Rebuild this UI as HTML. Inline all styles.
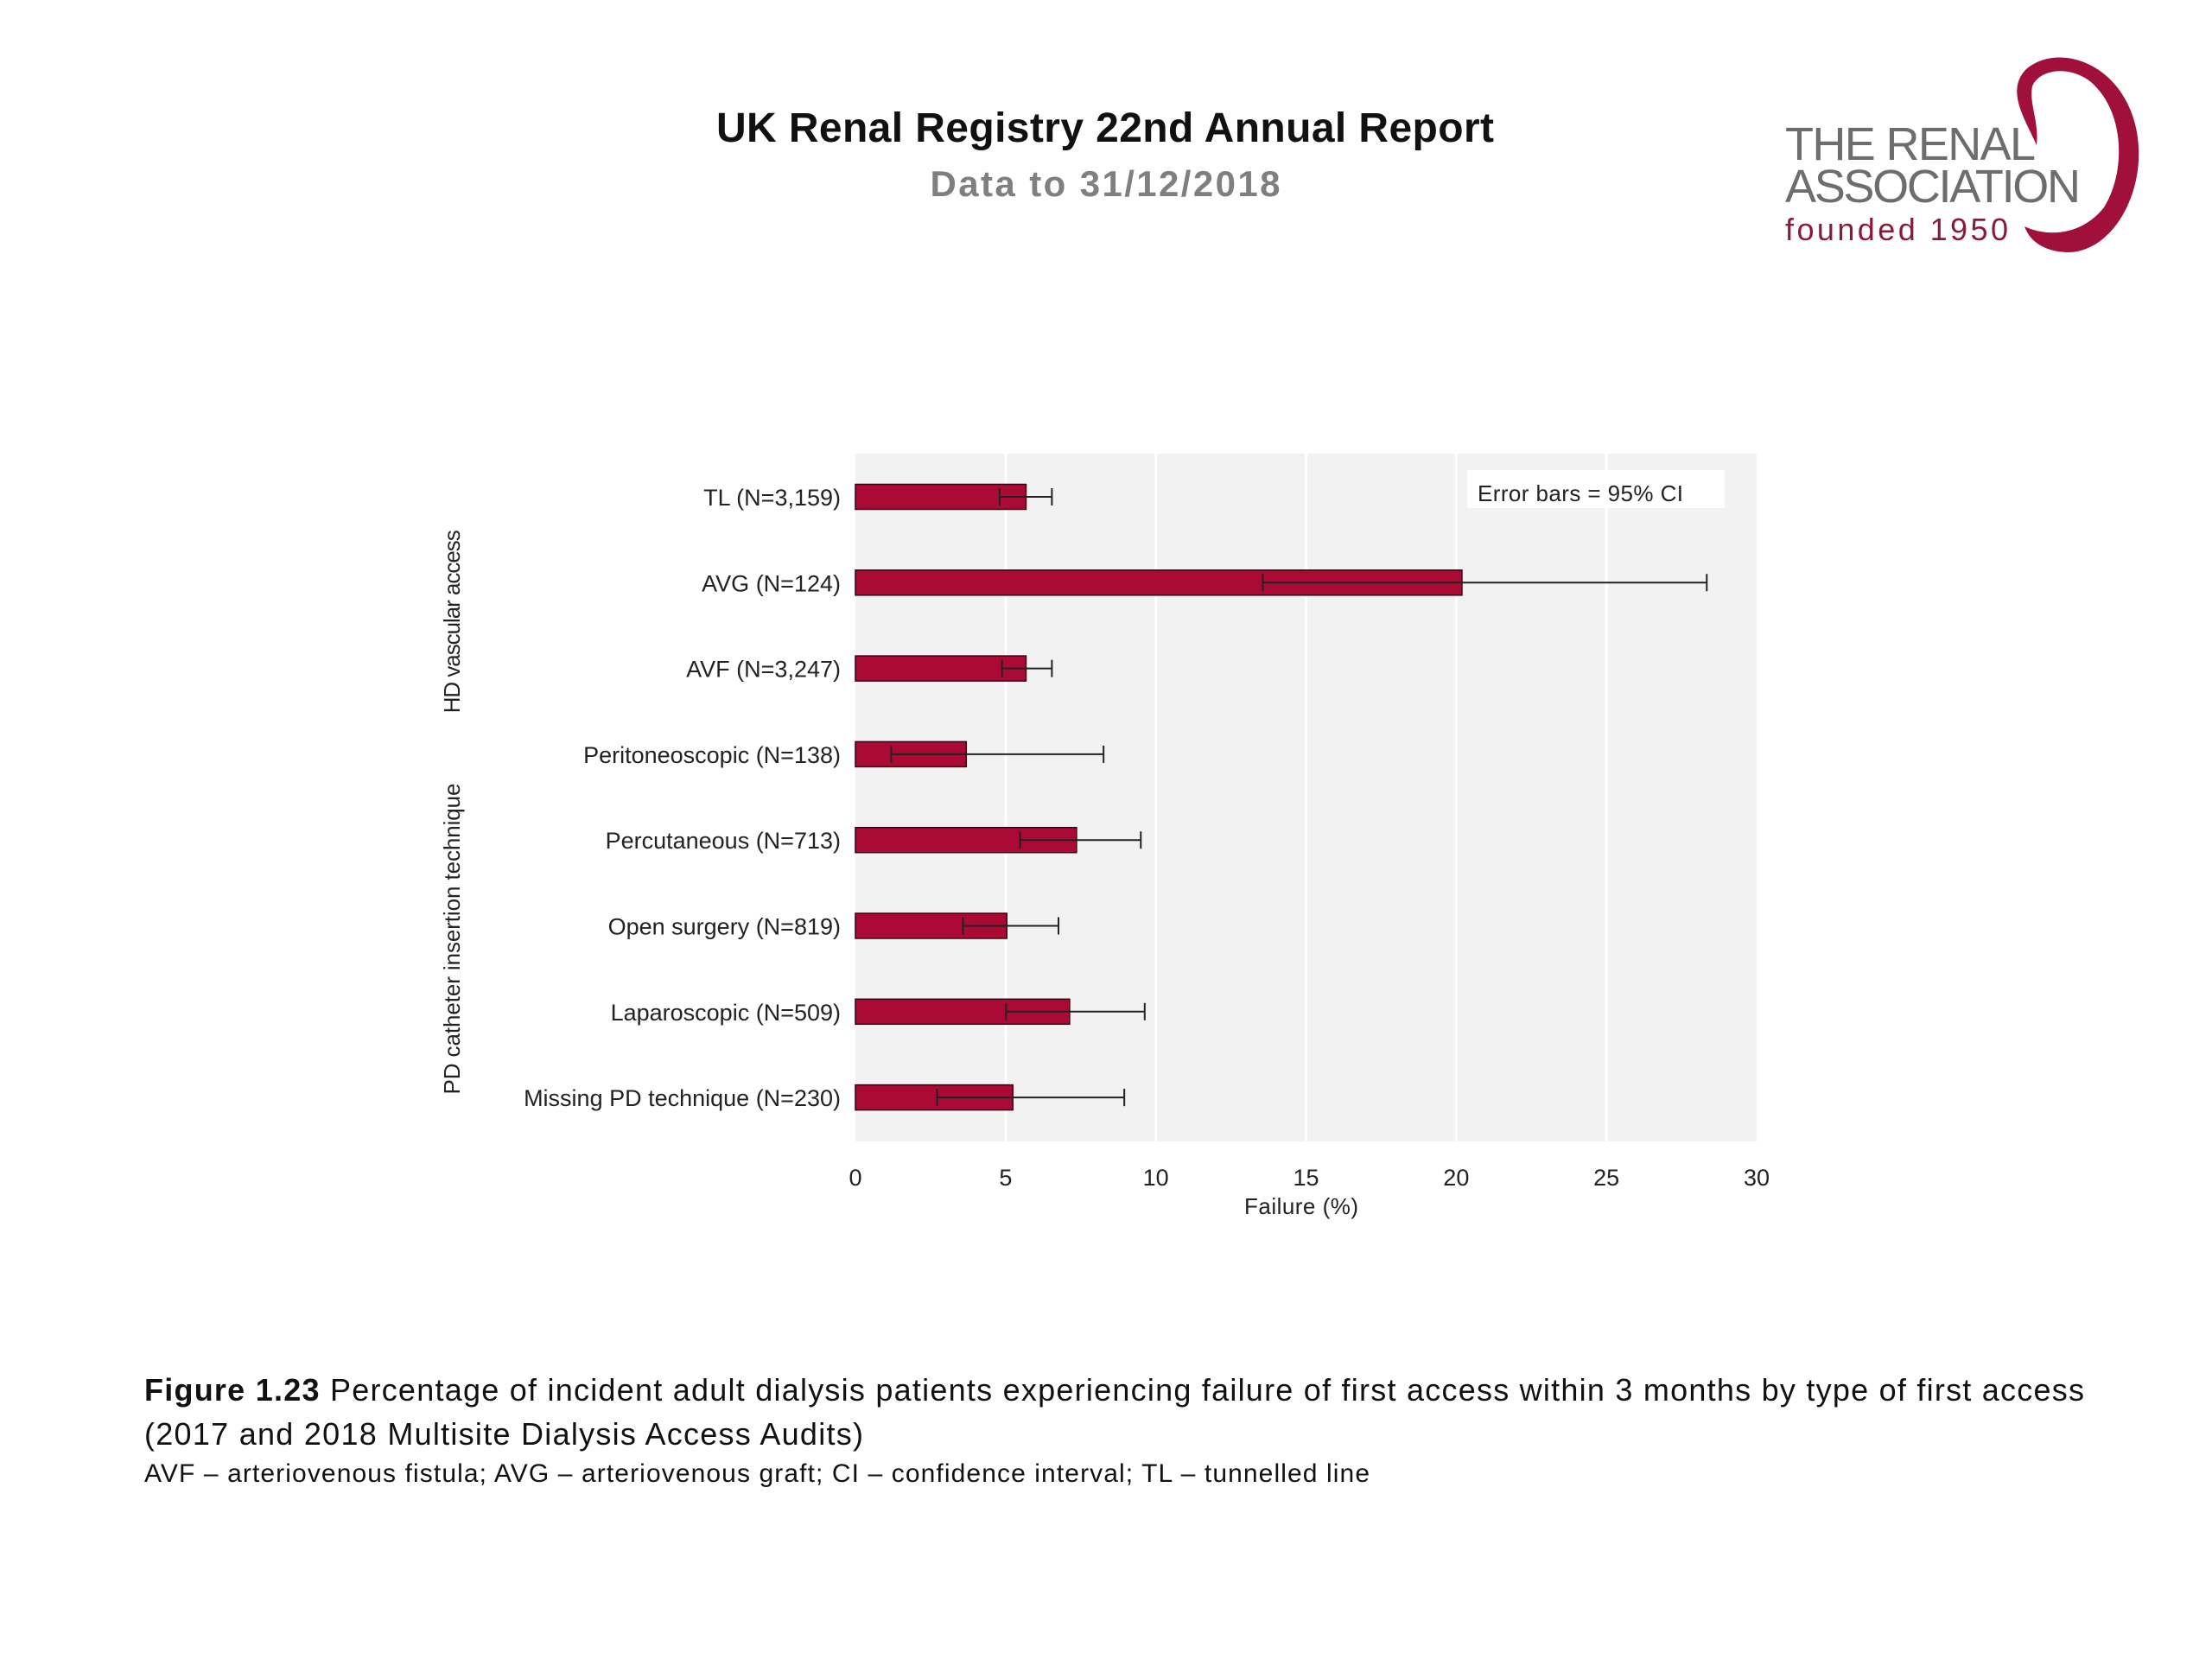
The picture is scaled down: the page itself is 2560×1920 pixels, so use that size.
<!DOCTYPE html>
<html><head><meta charset="utf-8"><style>
html,body{margin:0;padding:0;background:#fff;}
svg{display:block;font-family:"Liberation Sans",sans-serif;}
</style></head><body>
<svg id="root" width="2560" height="1920" viewBox="0 0 2560 1920" xmlns="http://www.w3.org/2000/svg">
<text x="1279" y="164" text-anchor="middle" font-size="48" font-weight="bold" fill="#111" textLength="900">UK Renal Registry 22nd Annual Report</text>
<text x="1279" y="227" text-anchor="middle" font-size="42" font-weight="bold" fill="#7f7f7f" textLength="405">Data to 31/12/2018</text>
<g>
<path d="M2357,168 C2345,140 2320,105 2345,80 C2380,50 2450,70 2470,140 C2490,210 2450,290 2395,292 C2370,292 2350,282 2343,262 C2370,275 2410,272 2435,240 C2460,200 2460,130 2420,95 C2395,75 2360,80 2352,100 C2348,120 2360,140 2357,168 Z" fill="#a0103a"/>
<text x="2066" y="185" font-size="54" fill="#6d6d6d" textLength="290">THE RENAL</text>
<text x="2066" y="234" font-size="54" fill="#6d6d6d" textLength="342">ASSOCIATION</text>
<text x="2066" y="278" font-size="36" fill="#8b1a3a" textLength="258">founded 1950</text>
</g>
<g id="chart"></g>
<text x="167" y="1621" font-size="36" fill="#111" textLength="2245"><tspan font-weight="bold">Figure 1.23</tspan> Percentage of incident adult dialysis patients experiencing failure of first access within 3 months by type of first access</text>
<text x="167" y="1672" font-size="36" fill="#111" textLength="832">(2017 and 2018 Multisite Dialysis Access Audits)</text>
<text x="167" y="1715" font-size="30" fill="#111" textLength="1418">AVF – arteriovenous fistula; AVG – arteriovenous graft; CI – confidence interval; TL – tunnelled line</text>
</svg>
<script>
const categories = ["TL (N=3,159)","AVG (N=124)","AVF (N=3,247)","Peritoneoscopic (N=138)","Percutaneous (N=713)","Open surgery (N=819)","Laparoscopic (N=509)","Missing PD technique (N=230)"];
const values = [5.68, 20.19, 5.68, 3.69, 7.36, 5.04, 7.13, 5.24];
const lower = [4.8, 13.56, 4.88, 1.19, 5.48, 3.58, 5.01, 2.72];
const upper = [6.54, 28.34, 6.54, 8.26, 9.5, 6.76, 9.63, 8.95];
const ticks = [0, 5, 10, 15, 20, 25, 30];
const groups = [["HD vascular access", 0, 2], ["PD catheter insertion technique", 3, 7]];

const NS = "http://www.w3.org/2000/svg";
const g = document.getElementById('chart');
const X0 = 990, X1 = 2033, YT = 525, YB = 1321;
const xs = v => X0 + (v - ticks[0]) / (ticks[ticks.length-1] - ticks[0]) * (X1 - X0);
const step = 99.3, yFirst = 575;
const ys = i => yFirst + i * step;
function mk(tag, attrs){ const e = document.createElementNS(NS, tag); for (const k in attrs) e.setAttribute(k, attrs[k]); g.appendChild(e); return e; }

let bg = mk('rect', {x: X0, y: YT, width: X1 - X0, height: YB - YT, fill: '#f2f2f2'});


ticks.forEach(t => {
  if (t > 0 && t < 30) {
    let l = mk('line', {x1: xs(t), x2: xs(t), y1: YT, y2: YB, stroke: '#fff', 'stroke-width': 3});
    
    
  }
  let tx = mk('text', {x: xs(t), y: 1372, 'text-anchor': 'middle', 'font-size': 27, fill: '#222'});
  tx.textContent = t;
  
  
});
let at = mk('text', {x: 1506, y: 1405, 'text-anchor': 'middle', 'font-size': 26, fill: '#222', textLength: 132});
at.textContent = 'Failure (%)';



let lb = mk('rect', {x: 1698, y: 544, width: 298, height: 44, fill: '#fff'});


let lt = mk('text', {x: 1710, y: 580, 'font-size': 26, fill: '#222', textLength: 238});
lt.textContent = 'Error bars = 95% CI';



const bh = 29;
categories.forEach((c, i) => {
  const y = ys(i);
  let lab = mk('text', {x: 973, y: y + 10, 'text-anchor': 'end', 'font-size': 27, fill: '#222'});
  lab.textContent = c;
  
  
  let b = mk('rect', {x: xs(0), y: y - bh/2, width: xs(values[i]) - xs(0), height: bh, fill: '#ab0a34', stroke: '#3a0010', 'stroke-width': 1.5});
  
  
  let e = mk('path', {d: `M${xs(lower[i])},${y} H${xs(upper[i])} M${xs(lower[i])},${y-10} V${y+10} M${xs(upper[i])},${y-10} V${y+10}`, stroke: '#222', 'stroke-width': 2, fill: 'none'});
  
  
});
groups.forEach(gr => {
  const cy = (ys(gr[1]) + ys(gr[2])) / 2 + (gr[1] === 0 ? 45 : 15);
  const len = gr[1] === 0 ? 212 : 360;
  let t = mk('text', {x: 0, y: 0, 'text-anchor': 'middle', 'font-size': 26, fill: '#222', textLength: len, transform: `translate(532,${cy}) rotate(-90)`});
  t.textContent = gr[0];
  
  
});
</script>
</body></html>
